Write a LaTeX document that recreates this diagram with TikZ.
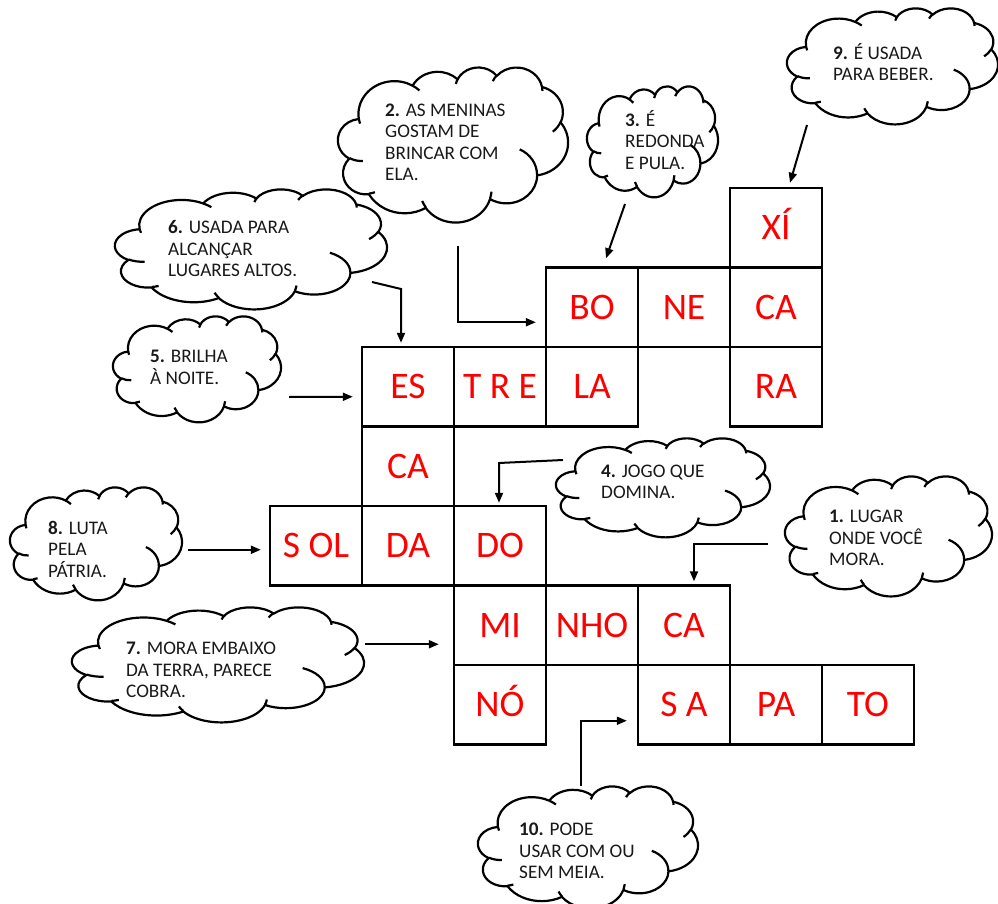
\documentclass[tikz,border=0pt]{standalone}
\usepackage{fontspec}
\setmainfont{Carlito}
\usetikzlibrary{arrows.meta}
% one elliptic arc of the cloud outline (radii in units, visual angles)
\newcommand\clarc[4]{%
	\pgfmathsetmacro\cldA{atan2((#1)*sin(#3),(#2)*cos(#3))}%
	\pgfmathsetmacro\cldB{atan2((#1)*sin(#3+#4),(#2)*cos(#3+#4))}%
	\pgfmathsetmacro\cldB{\cldB+360*(\cldB<\cldA)}%
	\pgfpatharcaxes{\cldA}{\cldB}{\pgfpointxy{#1}{0}}{\pgfpointxy{0}{#2}}}
% cloud in the box left,top,width,height
\newcommand\wordcloud[4]{%
	\pgfmathsetmacro\cldW{#3/43.2}\pgfmathsetmacro\cldH{-#4/43.2}%
	\begin{scope}[shift={(#1,#2)}, x=\cldW pt, y=\cldH pt]
		\draw[cloudline, fill=white] (3.9,14.37) \pgfextra{%
			\clarc{6.753}{9.190}{-190.48748}{123.78053}%
			\clarc{5.333}{7.267}{-144.10238}{89.94523}%
			\clarc{4.365}{5.945}{-145.80792}{99.72302}%
			\clarc{4.857}{6.595}{-130.98607}{117.24173}%
			\clarc{5.333}{7.273}{-78.70888}{109.02692}%
			\clarc{6.775}{9.220}{-46.26725}{130.26900}%
			\clarc{5.785}{7.867}{0.62502}{114.03333}%
			\clarc{6.752}{9.215}{22.45160}{115.17255}%
			\clarc{7.720}{10.543}{66.24263}{75.71102}%
			\clarc{4.360}{5.918}{-274.94208}{146.73557}%
			\clarc{4.345}{5.945}{-246.82850}{152.51885}} -- cycle;
		\draw[cloudline] (4.693,26.177) \pgfextra{\clarc{4.345}{5.945}{86.742}{26.4295}}
			(6.928,34.899) \pgfextra{\clarc{4.360}{5.918}{73.6105}{11.4475}}
			(16.478,39.090) \pgfextra{\clarc{6.752}{9.215}{137.6242}{14.0811}}
			(28.827,34.751) \pgfextra{\clarc{6.752}{9.215}{6.4533}{15.9984}}
			(34.129,22.954) \pgfextra{\clarc{5.785}{7.867}{-70.2924}{70.9174}}
			(41.798,15.354) \pgfextra{\clarc{5.333}{7.273}{30.3180}{27.7515}}
			(38.324,5.426) \pgfextra{\clarc{4.857}{6.595}{-13.7443}{14.8589}}
			(29.078,3.952) \pgfextra{\clarc{4.857}{6.595}{-149.1815}{18.1954}}
			(22.141,4.720) \pgfextra{\clarc{4.365}{5.945}{-163.4943}{19.5136}}
			(14.000,5.192) \pgfextra{\clarc{6.753}{9.190}{-66.7070}{12.3194}}
			(4.127,15.789) \pgfextra{\clarc{6.753}{9.190}{157.6544}{11.8582}};
	\end{scope}}

\begin{document}
\begin{tikzpicture}[x=1pt, y=-1pt,
		cell/.style={draw, line width=2.4pt, minimum width=92pt, minimum height=79.5pt, inner sep=0pt,
			text=red, font=\fontsize{37.5}{37.5}\selectfont, text height=24pt, text depth=0pt},
		cloudline/.style={line width=2.2pt, line join=round},
		hint/.style={anchor=west, inner sep=0pt, align=left, text=black!90,
			font=\fontsize{19.2}{21.5}\selectfont},
		pointer/.style={line width=2pt, -{Triangle[length=10pt,width=8pt]}}]
		%%%%% START %%%%%
		
		\useasboundingbox (0,0) rectangle (998,904);
		
		\wordcloud{115}{189}{272}{120}
		\wordcloud{338}{67}{230}{155}
		\wordcloud{587}{86}{131}{111}
		\wordcloud{787}{8}{211}{116}
		\wordcloud{113}{316}{168}{106}
		\wordcloud{556}{438}{214}{99}
		\wordcloud{10}{487}{172}{113}
		\wordcloud{785}{476}{207}{120}
		\wordcloud{72}{607}{292}{115}
		\wordcloud{478}{786}{220}{122}
		
		\node[hint] (t2) at (385, 142.5) {\textbf{2.} AS MENINAS\\GOSTAM DE\\BRINCAR COM\\ELA.};
		\node[hint] (t3) at (625, 140) {\textbf{3.} É\\REDONDA\\E PULA.};
		\node[hint] (t9) at (833, 62) {\textbf{9.} É USADA\\PARA BEBER.};
		\node[hint] (t6) at (168, 249) {\textbf{6.} USADA PARA\\ALCANÇAR\\LUGARES ALTOS.};
		\node[hint] (t5) at (150, 367.5) {\textbf{5.} BRILHA\\À NOITE.};
		\node[hint] (t4) at (601, 482) {\textbf{4.} JOGO QUE\\DOMINA.};
		\node[hint] (t8) at (48, 549) {\textbf{8.} LUTA\\PELA\\PÁTRIA.};
		\node[hint] (t1) at (829, 538) {\textbf{1.} LUGAR\\ONDE VOCÊ\\MORA.};
		\node[hint] (t7) at (126, 670) {\textbf{7.} MORA EMBAIXO\\DA TERRA, PARECE\\COBRA.};
		\node[hint] (t10) at (519, 851) {\textbf{10.} PODE\\USAR COM OU\\SEM MEIA.};
		
		% grid
		\node[cell] (cxi) at (776, 227.75) {XÍ};
		\node[cell] (cbo) at (592, 307.25) {BO};
		\node[cell] (cne) at (684, 307.25) {NE};
		\node[cell] (cca1) at (776, 307.25) {CA};
		\node[cell] (ces) at (408, 386.75) {ES};
		\node[cell] (ctre) at (500, 386.75) {T R E};
		\node[cell] (cla) at (592, 386.75) {LA};
		\node[cell] (cra) at (776, 386.75) {RA};
		\node[cell] (cca2) at (408, 466.25) {CA};
		\node[cell] (csol) at (316, 545.75) {S OL};
		\node[cell] (cda) at (408, 545.75) {DA};
		\node[cell] (cdo) at (500, 545.75) {DO};
		\node[cell] (cmi) at (500, 625.25) {MI};
		\node[cell] (cnho) at (592, 625.25) {NHO};
		\node[cell] (cca3) at (684, 625.25) {CA};
		\node[cell] (cno) at (500, 704.75) {NÓ};
		\node[cell] (csa) at (684, 704.75) {S A};
		\node[cell] (cpa) at (776, 704.75) {PA};
		\node[cell] (cto) at (868, 704.75) {TO};
		
		% arrows
		\coordinate (s9) at (807, 125);
		\coordinate (s3) at (625, 204);
		\coordinate (s2) at (458, 246);
		\coordinate (s6) at (372, 282);
		\coordinate (k6) at (401, 289);
		\coordinate (s5) at (289, 397);
		\coordinate (s4) at (563, 460);
		\coordinate (k4) at (499, 463);
		\coordinate (s8) at (188, 549.75);
		\coordinate (s1) at (768, 544);
		\coordinate (s7) at (365, 644.25);
		\coordinate (s10) at (581, 786);
		
		\draw[pointer] (s9) -- ([xshift=14pt,yshift=4pt]cxi.north);
		\draw[pointer] (s3) -- ([xshift=14pt,yshift=8pt]cbo.north);
		\draw[pointer] (s2) |- ([xshift=-9pt,yshift=-15pt]cbo.west);
		\draw[pointer] (s6) -- (k6) -- ([xshift=-7pt,yshift=3pt]ces.north);
		\draw[pointer] (s5) -- ([xshift=-8pt,yshift=-10pt]ces.west);
		\draw[pointer] (s4) -- (k4) -- ([xshift=-1pt,yshift=2pt]cdo.north);
		\draw[pointer] (s8) -- ([xshift=-8pt,yshift=-4pt]csol.west);
		\draw[pointer] (s1) -| ([xshift=10pt,yshift=3pt]cca3.north);
		\draw[pointer] (s7) -- ([xshift=-14pt,yshift=-19pt]cmi.west);
		\draw[pointer] (s10) |- ([xshift=-10pt,yshift=-16pt]csa.west);
		
		%%%%% END %%%%%
	\end{tikzpicture}
\end{document}
